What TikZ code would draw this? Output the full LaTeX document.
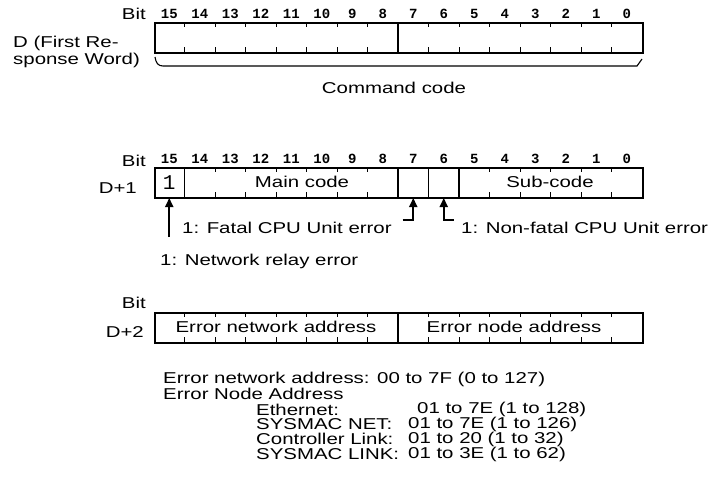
\documentclass[tikz,border=0pt]{standalone}
\usepackage{fontspec}
\setmainfont{Liberation Sans}[FakeStretch=1.3]
\newfontfamily\bitfont{Liberation Mono}
\usetikzlibrary{arrows.meta}
\begin{document}
\begin{tikzpicture}[x=1pt,y=-1pt,
  txt/.style={inner sep=0pt,font=\fontsize{15.7}{17}\selectfont},
  bitnum/.style={inner sep=0pt,font=\bitfont\bfseries\fontsize{14}{14}\selectfont},
  regbox/.style={draw,line width=1.8pt},
  divider/.style={line width=1.6pt},
  tick/.style={line width=1pt},
  conn/.style={line width=1.8pt},
  tip/.style={-{Triangle[length=9pt,width=8pt]}}]
\useasboundingbox (0,0) rectangle (717,499);
% ---------------- Register D ----------------
\node[txt,anchor=east] (bit1) at (146,14) {Bit};
\foreach \i in {0,...,15}{
  \pgfmathsetmacro\cx{154+30.5*(15-\i)+15.25}
  \node[bitnum] (r1b\i) at (\cx,14) {\i};
}
\node[regbox,minimum width=488pt,minimum height=30pt,anchor=north west,inner sep=0pt] (reg1) at (154,22) {};
\foreach \k in {1,...,15}{
  \pgfmathsetmacro\tx{154+30.5*\k}
  \draw[tick] (\tx,22) -- (\tx,27);
  \draw[tick] (\tx,52) -- (\tx,47);
}
\draw[divider] (398,22) -- (398,52);
\node[txt,anchor=west] (dlab1) at (13,43) {D (First Re-};
\node[txt,anchor=west] (dlab2) at (13,60) {sponse Word)};
\coordinate (brL) at (155,57);
\coordinate (brR) at (642,59);
\draw[line width=1.1pt] (brL) .. controls (156,63) and (158,66) .. (163,66) -- (637,66) -- (brR);
\node[txt] (cmd) at (394,88) {Command code};
% ---------------- Register D+1 ----------------
\node[txt,anchor=east] (bit2) at (146,161) {Bit};
\foreach \i in {0,...,15}{
  \pgfmathsetmacro\cx{154+30.5*(15-\i)+15.25}
  \node[bitnum] (r2b\i) at (\cx,159) {\i};
}
\node[regbox,minimum width=488pt,minimum height=30pt,anchor=north west,inner sep=0pt] (reg2) at (154,167) {};
\foreach \k in {2,...,7,11,12,13,14,15}{
  \pgfmathsetmacro\tx{154+30.5*\k}
  \draw[tick] (\tx,167) -- (\tx,172);
  \draw[tick] (\tx,197) -- (\tx,192);
}
\foreach \k in {1,8,9,10}{
  \pgfmathsetmacro\tx{154+30.5*\k}
  \draw[divider] (\tx,167) -- (\tx,197);
}
\node[txt,anchor=east] (dp1) at (137,188) {D+1};
\node[inner sep=0pt,font=\bitfont\fontsize{21}{21}\selectfont] (one) at (169.25,183) {1};
\node[txt] (main) at (302,182) {Main code};
\node[txt] (sub) at (550,182) {Sub-code};
% arrows
\coordinate (a15) at (169.25,198);
\coordinate (a15s) at (169.25,237);
\draw[conn,tip] (a15s) -- (a15);
\coordinate (a7) at (413.25,198);
\coordinate (a7s) at (402.5,220);
\draw[conn,tip] (a7s) -- (413.25,220) -- (a7);
\coordinate (a6) at (443.75,198);
\coordinate (a6s) at (453.5,220);
\draw[conn,tip] (a6s) -- (443.75,220) -- (a6);
\node[txt,anchor=west] (fatal) at (182,228) {1: Fatal CPU Unit error};
\node[txt,anchor=west] (nonfatal) at (461,228) {1: Non-fatal CPU Unit error};
\node[txt,anchor=west] (relay) at (160,261) {1: Network relay error};
% ---------------- Register D+2 ----------------
\node[txt,anchor=east] (bit3) at (146,303) {Bit};
\node[regbox,minimum width=488pt,minimum height=30pt,anchor=north west,inner sep=0pt] (reg3) at (154,312) {};
\foreach \k in {1,...,7,9,10,11,12,13,14,15}{
  \pgfmathsetmacro\tx{154+30.5*\k}
  \draw[tick] (\tx,312) -- (\tx,317);
  \draw[tick] (\tx,342) -- (\tx,337);
}
\draw[divider] (398,312) -- (398,342);
\node[txt,anchor=east] (dp2) at (144,332) {D+2};
\node[txt] (ena) at (276,327) {Error network address};
\node[txt] (enoa) at (514,327) {Error node address};
% ---------------- Notes ----------------
\node[txt,anchor=west] (n1) at (163,379) {Error network address: 00 to 7F (0 to 127)};
\node[txt,anchor=west] (n2) at (163,394) {Error Node Address};
\node[txt,anchor=west] (e1) at (256,409.6) {Ethernet:};
\node[txt,anchor=west] (e1v) at (417,409.6) {01 to 7E (1 to 128)};
\node[txt,anchor=west] (e2) at (256,424.4) {SYSMAC NET:};
\node[txt,anchor=west] (e2v) at (408,424.4) {01 to 7E (1 to 126)};
\node[txt,anchor=west] (e3) at (256,439.2) {Controller Link:};
\node[txt,anchor=west] (e3v) at (408,439.2) {01 to 20 (1 to 32)};
\node[txt,anchor=west] (e4) at (256,454) {SYSMAC LINK:};
\node[txt,anchor=west] (e4v) at (408,454) {01 to 3E (1 to 62)};
\end{tikzpicture}
\end{document}
